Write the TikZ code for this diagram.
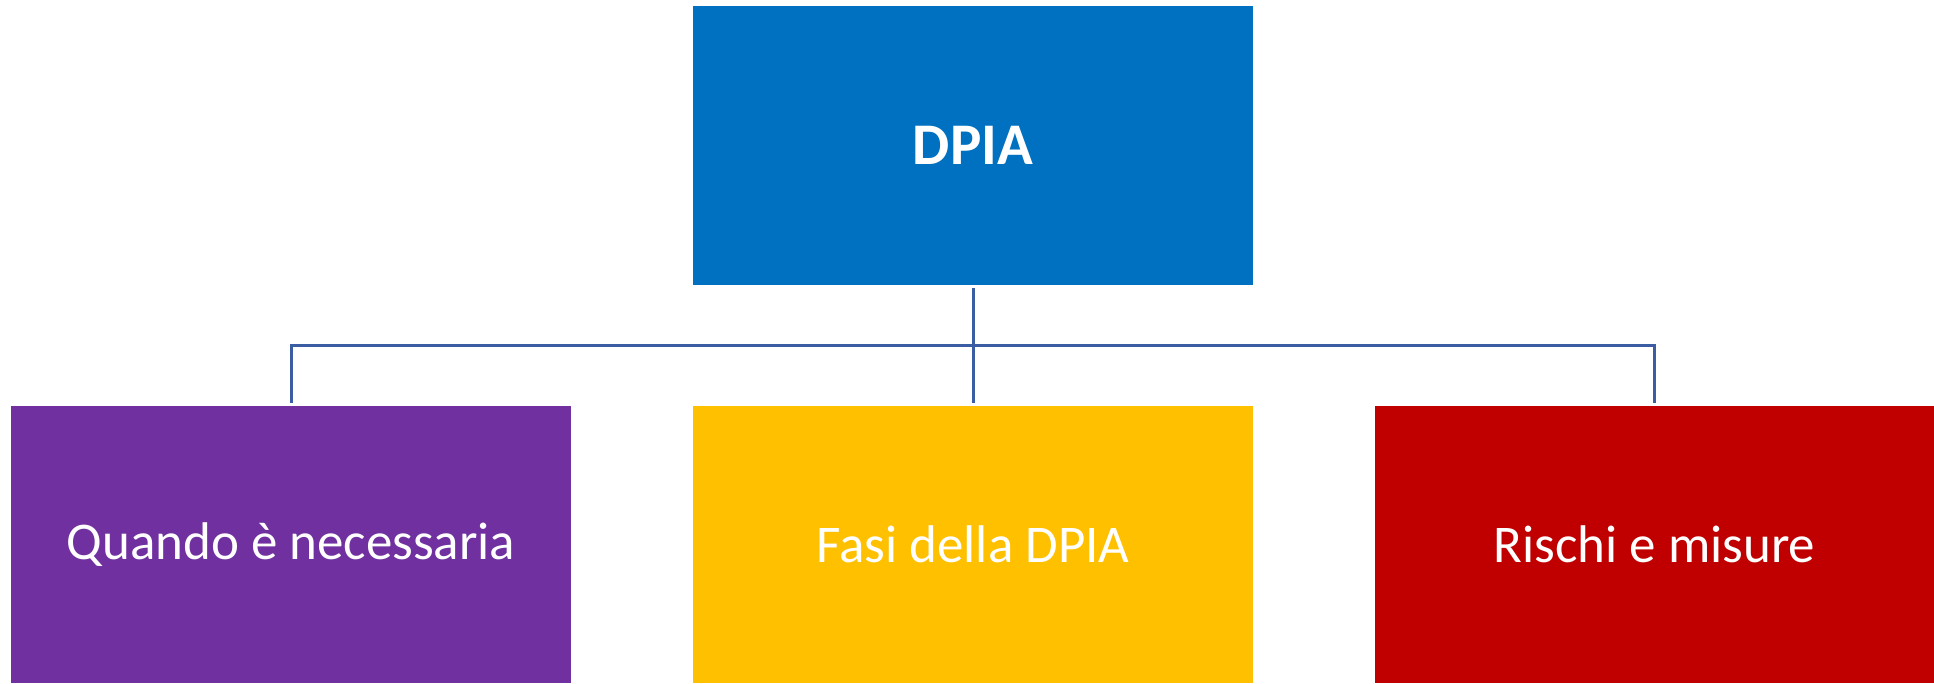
\documentclass[tikz,border=0pt]{standalone}
\usepackage{fontspec}
\setmainfont{Carlito}
\definecolor{cTop}{HTML}{0070C0}
\definecolor{cPurple}{HTML}{7030A0}
\definecolor{cYellow}{HTML}{FFC000}
\definecolor{cRed}{HTML}{C00000}
\definecolor{cLine}{HTML}{3A5DA3}
\tikzset{
  box/.style={rectangle, inner sep=0pt, minimum width=560pt, text=white, font=\fontsize{53}{60}\selectfont},
  conn/.style={draw=cLine, line width=3pt}
}
\begin{document}
\begin{tikzpicture}[x=1pt,y=-1pt]
\useasboundingbox (0,0) rectangle (1934,683);
\node[box, fill=cTop, minimum height=279pt, font=\fontsize{59}{66}\selectfont\bfseries] (top) at (973,145.5) {DPIA};
\node[box, fill=cPurple, minimum height=277pt] (l) at (291,544.5) {Quando è necessaria};
\node[box, fill=cYellow, minimum height=277pt] (m) at (973,544.5) {Fasi della DPIA};
\node[box, fill=cRed, minimum height=277pt, minimum width=559pt] (r) at (1654.5,544.5) {Rischi e misure};
\coordinate (bus) at (973,345);
\draw[conn] ([yshift=-3pt]top.south) -- ([yshift=3pt]m.north);
\draw[conn] ([yshift=3pt]l.north) -- (l.north|-bus) -- (r.north|-bus) -- ([yshift=3pt]r.north);
\end{tikzpicture}
\end{document}
